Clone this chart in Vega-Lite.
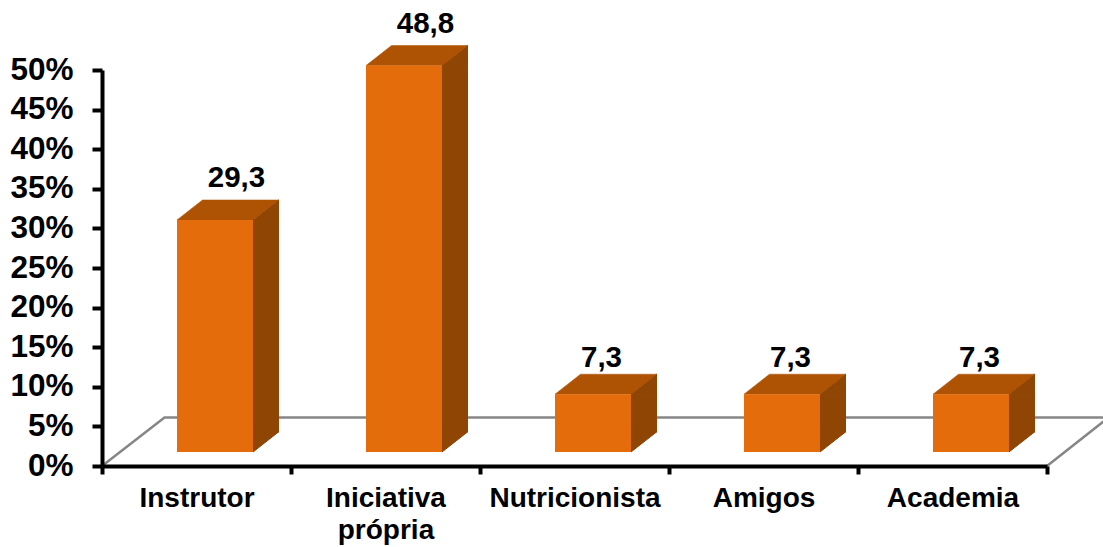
{
"$schema":"https://vega.github.io/schema/vega-lite/v6.json",
"width":945,"height":396,
"autosize":{"type":"none"},
"padding":{"left":102,"top":70,"right":56,"bottom":81},
"background":"white",
"config":{"view":{"stroke":null},"font":"Liberation Sans"},
"data":{"values":[
{"categoria":"Instrutor","percentual":29.3,"rotulo":"29,3"},
{"categoria":"Iniciativa própria","percentual":48.8,"rotulo":"48,8"},
{"categoria":"Nutricionista","percentual":7.3,"rotulo":"7,3"},
{"categoria":"Amigos","percentual":7.3,"rotulo":"7,3"},
{"categoria":"Academia","percentual":7.3,"rotulo":"7,3"}
]},
"encoding":{
"x":{"field":"categoria","type":"nominal","sort":null,"scale":{"paddingInner":0,"paddingOuter":0},"title":null,
"axis":{"zindex":1,"tickBand":"extent","labelAngle":0,"domainColor":"black","domainWidth":4,"tickColor":"black","tickWidth":4,"tickSize":8,"labelColor":"black","labelFont":"Liberation Sans","labelFontWeight":"bold","labelFontSize":28,"labelPadding":10,"labelLimit":300,"labelLineHeight":32,"labelExpr":"datum.label=='Iniciativa própria'?['Iniciativa','própria']:datum.label"}},
"y":{"field":"percentual","type":"quantitative","scale":{"domain":[0,50]},"title":null,
"axis":{"zindex":1,"values":[0,5,10,15,20,25,30,35,40,45,50],"grid":false,"domainColor":"black","domainWidth":4,"tickColor":"black","tickWidth":4,"tickSize":10,"labelColor":"black","labelFont":"Liberation Sans","labelFontWeight":"bold","labelFontSize":31.5,"labelPadding":19,"labelExpr":"datum.value+'%'"}}
},
"layer":[
{"transform":[{"filter":"datum.categoria=='Instrutor'"}],
 "mark":{"type":"point","shape":"M-94.5,0L-32,-48.5L912,-48.5L850.5,0L912,-48.5","size":4,"filled":false,"fill":null,"stroke":"#868686","strokeWidth":2.5,"opacity":1,"clip":false},
 "encoding":{"y":{"datum":0}}},
{"mark":{"type":"rect","width":25.5,"xOffset":69.25,"yOffset":-14,"y2Offset":-34,"fill":"#8F4503","stroke":"#8F4503","strokeWidth":1},
 "encoding":{"y2":{"datum":0}}},
{"mark":{"type":"point","shape":"M38,0L63.5,-20L63.5,0Z","size":4,"filled":true,"fill":"#8F4503","stroke":"#8F4503","strokeWidth":1,"opacity":1,"xOffset":18.5,"yOffset":-14}},
{"mark":{"type":"point","shape":"M38,0L63.5,-20L38,-20Z","size":4,"filled":true,"fill":"#8F4503","stroke":"#8F4503","strokeWidth":1,"opacity":1,"xOffset":18.5,"yOffset":-14},
 "encoding":{"y":{"datum":0}}},
{"mark":{"type":"point","shape":"M-38,0L-12.5,-20L63.5,-20L38,0Z","size":4,"filled":true,"fill":"#AE5204","stroke":"#AE5204","strokeWidth":0.5,"opacity":1,"xOffset":18.5,"yOffset":-14}},
{"mark":{"type":"rect","width":76,"xOffset":18.5,"yOffset":-14,"y2Offset":-14,"color":"#E56C0A"},
 "encoding":{"y2":{"datum":0}}},
{"transform":[{"filter":"datum.percentual>20"}],
 "mark":{"type":"text","font":"Liberation Sans","fontWeight":"bold","fontSize":29.5,"color":"black","dx":40,"dy":-56},
 "encoding":{"text":{"field":"rotulo"}}},
{"transform":[{"filter":"datum.percentual<20"}],
 "mark":{"type":"text","font":"Liberation Sans","fontWeight":"bold","fontSize":29.5,"color":"black","dx":27,"dy":-50},
 "encoding":{"text":{"field":"rotulo"}}}
]
}
